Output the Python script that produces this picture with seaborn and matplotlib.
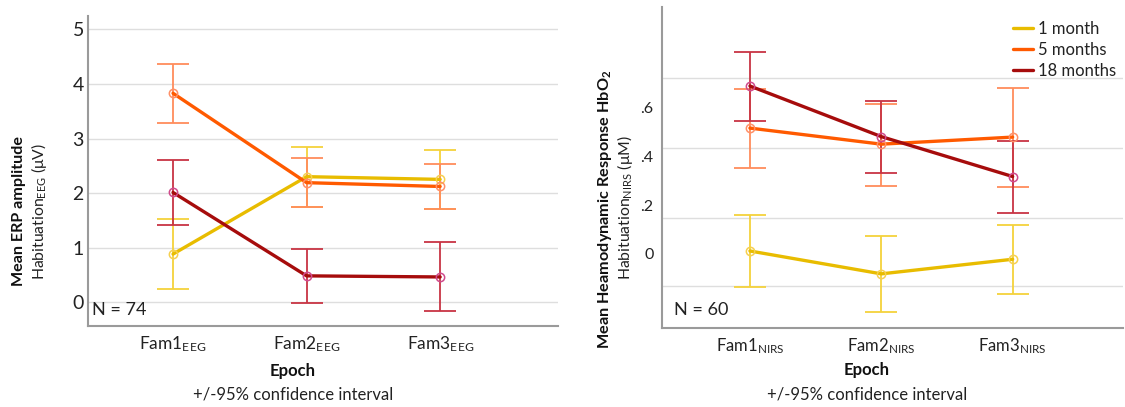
import matplotlib
matplotlib.use('Agg')
import matplotlib.pyplot as plt
import numpy as np
import pandas as pd
import seaborn as sns

# groups and epochs
groups = ['1 month', '5 months', '18 months']
eeg_ticks = ['Fam1$_{\\mathrm{EEG}}$', 'Fam2$_{\\mathrm{EEG}}$', 'Fam3$_{\\mathrm{EEG}}$']
nirs_ticks = ['Fam1$_{\\mathrm{NIRS}}$', 'Fam2$_{\\mathrm{NIRS}}$', 'Fam3$_{\\mathrm{NIRS}}$']

# EEG: mean and 95% CI per group (rows) and epoch (cols)
eeg_mean = [[0.88, 2.30, 2.25], [3.83, 2.19, 2.12], [2.01, 0.48, 0.46]]
eeg_low = [[0.24, 1.74, 1.71], [3.29, 1.74, 1.71], [1.41, -0.02, -0.17]]
eeg_high = [[1.52, 2.85, 2.79], [4.37, 2.64, 2.53], [2.60, 0.98, 1.11]]
eeg_yticks = [0, 1, 2, 3, 4, 5]

# NIRS
nirs_mean = [[0.012, -0.082, -0.022], [0.517, 0.451, 0.480], [0.690, 0.482, 0.318]]
nirs_low = [[-0.138, -0.240, -0.163], [0.353, 0.279, 0.277], [0.545, 0.333, 0.170]]
nirs_high = [[0.159, 0.073, 0.120], [0.678, 0.615, 0.681], [0.831, 0.630, 0.464]]
nirs_yticks = [0, 0.2, 0.4, 0.6]
nirs_ylabels = ['0', '.2', '.4', '.6']
nirs_grid = [-0.13, 0.148, 0.436, 0.722]

line_colors = ['#E8BC00', '#FF5A00', '#A60C0C']
bar_colors = ['#F4D23C', '#FF8C5C', '#C83444']
marker_colors = ['#F6D050', '#FF9068', '#D04A8C']

sns.set_theme(style='white')
plt.rcParams['font.family'] = ['Lato', 'DejaVu Sans']
plt.rcParams['mathtext.fontset'] = 'custom'
plt.rcParams['mathtext.rm'] = 'Lato'
plt.rcParams['mathtext.it'] = 'Lato:italic'
plt.rcParams['mathtext.bf'] = 'Lato:bold'

fig = plt.figure(figsize=(11.25, 4.07), dpi=100)
ax1 = fig.add_axes([0.0782, 0.199, 0.418, 0.762])
ax2 = fig.add_axes([0.5884, 0.195, 0.4098, 0.788])


def draw(ax, means, lows, highs, legend):
    x = np.arange(len(means[0]))
    for i, g in enumerate(groups):
        m = np.array(means[i])
        lo = np.array(lows[i])
        hi = np.array(highs[i])
        ax.errorbar(x, m, yerr=[m - lo, hi - m], fmt='none', ecolor=bar_colors[i],
                    elinewidth=1.3, capsize=11.5, capthick=1.3, zorder=2)
        df = pd.DataFrame({'pos': x, 'val': m})
        sns.lineplot(data=df, x='pos', y='val', ax=ax, color=line_colors[i], lw=2.4,
                     marker='o', markersize=6, markerfacecolor='none',
                     markeredgecolor=marker_colors[i], markeredgewidth=1.1,
                     label=g if legend else None, legend=legend, zorder=3)
    ax.set_xlabel('')
    ax.set_ylabel('')
    for s in ['top', 'right']:
        ax.spines[s].set_visible(False)
    for s in ['left', 'bottom']:
        ax.spines[s].set_color('#9A9A9A')
        ax.spines[s].set_linewidth(1.5)
    ax.tick_params(length=0)
    ax.set_xticks(x)


# left: EEG
draw(ax1, eeg_mean, eeg_low, eeg_high, False)
ax1.set_xlim(-0.637, 2.884)
ax1.set_ylim(-0.44, 5.25)
ax1.set_yticks(eeg_yticks)
ax1.set_yticklabels([str(t) for t in eeg_yticks], fontsize=14, color='#222222')
ax1.set_xticklabels(eeg_ticks, fontsize=12.5, color='#222222')
ax1.tick_params(axis='y', pad=3)
ax1.tick_params(axis='x', pad=6)
ax1.grid(axis='y', color='#DEDEDE', lw=1)
ax1.set_axisbelow(True)
ax1.text(0.009, 0.026, 'N = 74', transform=ax1.transAxes, fontsize=13, color='#222222',
         ha='left', va='bottom')

# right: NIRS
draw(ax2, nirs_mean, nirs_low, nirs_high, True)
ax2.set_xlim(-0.67, 2.84)
ax2.set_ylim(-0.303, 1.015)
ax2.set_yticks(nirs_yticks)
ax2.set_yticklabels(nirs_ylabels, fontsize=11.5, color='#222222')
ax2.set_yticks(nirs_grid, minor=True)
ax2.tick_params(axis='y', which='both', length=0, pad=6)
ax2.set_xticklabels(nirs_ticks, fontsize=12, color='#222222')
ax2.tick_params(axis='x', pad=6)
ax2.grid(axis='y', which='minor', color='#DEDEDE', lw=1)
ax2.grid(axis='y', which='major', visible=False)
ax2.set_axisbelow(True)
ax2.text(0.026, 0.03, 'N = 60', transform=ax2.transAxes, fontsize=13, color='#222222',
         ha='left', va='bottom')
leg = ax2.legend(loc='upper right', bbox_to_anchor=(1.0, 0.978), frameon=False, fontsize=12,
                 handlelength=1.2, handletextpad=0.3, labelspacing=0.3, borderaxespad=0.0)
for h in leg.legend_handles:
    h.set_marker('')
for t in leg.get_texts():
    t.set_color('#222222')

# axis titles
fig.text(19 / 1125, 1 - 211 / 407, 'Mean ERP amplitude', rotation=90, ha='center', va='center',
         fontsize=11.6, fontweight='bold', color='#111111')
fig.text(39 / 1125, 1 - 212 / 407, 'Habituation$_{\\mathrm{EEG}}$ (μV)', rotation=90, ha='center',
         va='center', fontsize=11.3, color='#222222')
fig.text(605 / 1125, 1 - 209 / 407, 'Mean Heamodynamic Response HbO$_{\\mathbf{2}}$', rotation=90,
         ha='center', va='center', fontsize=11.7, fontweight='bold', color='#111111')
fig.text(625 / 1125, 1 - 208 / 407, 'Habituation$_{\\mathrm{NIRS}}$ (μM)', rotation=90, ha='center',
         va='center', fontsize=11.3, color='#222222')

fig.text(293 / 1125, 1 - 371 / 407, 'Epoch', ha='center', va='center', fontsize=12,
         fontweight='bold', color='#111111')
fig.text(293 / 1125, 1 - 395 / 407, '+/-95% confidence interval', ha='center', va='center',
         fontsize=12, color='#222222')
fig.text(867 / 1125, 1 - 370 / 407, 'Epoch', ha='center', va='center', fontsize=12,
         fontweight='bold', color='#111111')
fig.text(867 / 1125, 1 - 395 / 407, '+/-95% confidence interval', ha='center', va='center',
         fontsize=12, color='#222222')

fig.savefig('out.png', dpi=100)
